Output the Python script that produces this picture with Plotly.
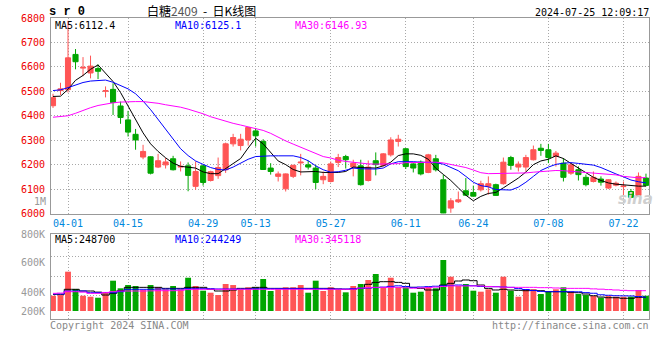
import plotly.graph_objects as go

# ---------------- data ----------------
DATES = [
    "03-28", "03-29",
    "04-01", "04-02", "04-03", "04-08", "04-09", "04-10", "04-11", "04-12",
    "04-15", "04-16", "04-17", "04-18", "04-19", "04-22", "04-23", "04-24",
    "04-25", "04-26", "04-29", "04-30",
    "05-06", "05-07", "05-08", "05-09", "05-10", "05-13", "05-14", "05-15",
    "05-16", "05-17", "05-20", "05-21", "05-22", "05-23", "05-24", "05-27",
    "05-28", "05-29", "05-30", "05-31",
    "06-03", "06-04", "06-05", "06-06", "06-07", "06-11", "06-12", "06-13",
    "06-14", "06-17", "06-18", "06-19", "06-20", "06-21", "06-24", "06-25",
    "06-26", "06-27", "06-28",
    "07-01", "07-02", "07-03", "07-04", "07-05", "07-08", "07-09", "07-10",
    "07-11", "07-12", "07-15", "07-16", "07-17", "07-18", "07-19", "07-22",
    "07-23", "07-24", "07-25",
]

OPEN = [6441, 6503, 6507, 6651, 6595, 6575, 6593, 6500, 6508, 6440,
        6383, 6324, 6231, 6232, 6190, 6199, 6224, 6190, 6195, 6111,
        6195, 6135, 6155, 6179, 6285, 6278, 6301, 6338, 6295, 6186,
        6152, 6101, 6152, 6207, 6199, 6186, 6138, 6131, 6209, 6233,
        6190, 6195, 6135, 6216, 6197, 6240, 6295, 6265, 6203, 6210,
        6168, 6224, 6138, 6022, 6048, 6093, 6086, 6097, 6111, 6118,
        6122, 6229, 6190, 6190, 6220, 6267, 6261, 6233, 6206, 6165,
        6179, 6148, 6131, 6141, 6104, 6116, 6110, 6090, 6074, 6145]
HIGH = [6490, 6535, 6789, 6673, 6640, 6646, 6610, 6520, 6533, 6458,
        6420, 6346, 6281, 6234, 6244, 6227, 6236, 6213, 6209, 6213,
        6199, 6175, 6229, 6290, 6326, 6326, 6353, 6350, 6304, 6206,
        6172, 6164, 6200, 6244, 6216, 6199, 6172, 6213, 6244, 6240,
        6220, 6220, 6217, 6250, 6247, 6312, 6322, 6268, 6206, 6217,
        6244, 6240, 6158, 6063, 6090, 6145, 6114, 6134, 6152, 6122,
        6229, 6236, 6213, 6240, 6278, 6285, 6285, 6256, 6227, 6209,
        6193, 6159, 6172, 6152, 6140, 6131, 6131, 6100, 6168, 6163]
LOW = [6432, 6485, 6495, 6590, 6562, 6553, 6550, 6475, 6403, 6367,
       6315, 6261, 6222, 6160, 6186, 6184, 6176, 6172, 6091, 6097,
       6114, 6131, 6142, 6166, 6274, 6258, 6278, 6274, 6178, 6159,
       6131, 6090, 6145, 6156, 6180, 6100, 6120, 6127, 6190, 6184,
       6152, 6114, 6131, 6156, 6192, 6233, 6274, 6182, 6168, 6156,
       6165, 6172, 6000, 6003, 6043, 6073, 6069, 6090, 6077, 6072,
       6118, 6179, 6172, 6172, 6217, 6236, 6206, 6192, 6131, 6158,
       6135, 6111, 6127, 6114, 6100, 6111, 6066, 6063, 6070, 6111]
CLOSE = [6474, 6510, 6637, 6621, 6598, 6603, 6582, 6503, 6454, 6393,
         6333, 6301, 6254, 6165, 6216, 6211, 6179, 6193, 6156, 6172,
         6127, 6171, 6188, 6285, 6311, 6304, 6352, 6318, 6180, 6172,
         6162, 6162, 6197, 6210, 6190, 6127, 6152, 6203, 6229, 6220,
         6206, 6118, 6190, 6200, 6244, 6301, 6304, 6192, 6186, 6162,
         6240, 6179, 6001, 6052, 6056, 6075, 6071, 6122, 6122, 6074,
         6210, 6197, 6202, 6229, 6261, 6258, 6229, 6247, 6148, 6199,
         6159, 6118, 6148, 6128, 6138, 6124, 6112, 6066, 6152, 6115]

MA5 = [6479, 6480, 6508, 6545, 6565, 6590, 6608, 6576, 6540, 6495,
       6440, 6385, 6330, 6285, 6254, 6228, 6206, 6193, 6191, 6186,
       6170, 6163, 6163, 6183, 6203, 6225, 6268, 6308, 6285, 6250,
       6215, 6200, 6180, 6170, 6172, 6172, 6168, 6168, 6168, 6172,
       6190, 6188, 6186, 6186, 6195, 6210, 6237, 6244, 6244, 6238,
       6222, 6185, 6160, 6135, 6105, 6075, 6052, 6070, 6082, 6086,
       6105, 6125, 6145, 6170, 6200, 6215, 6222, 6236, 6225, 6205,
       6185, 6165, 6148, 6135, 6125, 6120, 6117, 6115, 6112, 6112]
MA10 = [6503, 6506, 6515, 6526, 6536, 6542, 6545, 6546, 6537, 6524,
        6510, 6490, 6460, 6425, 6385, 6346, 6302, 6265, 6237, 6215,
        6201, 6188, 6180, 6178, 6190, 6205, 6222, 6233, 6236, 6236,
        6236, 6236, 6236, 6229, 6216, 6195, 6179, 6169, 6171, 6177,
        6186, 6183, 6182, 6182, 6186, 6203, 6212, 6213, 6212, 6210,
        6210, 6208, 6202, 6190, 6175, 6152, 6128, 6114, 6109, 6098,
        6096, 6096, 6108, 6128, 6152, 6176, 6190, 6201, 6206, 6208,
        6205, 6201, 6198, 6188, 6174, 6162, 6150, 6137, 6130, 6125]
MA30 = [6394, 6396, 6400, 6410, 6423, 6433, 6442, 6448, 6453, 6456,
        6458, 6458, 6458, 6455, 6451, 6445, 6441, 6435, 6427, 6419,
        6408, 6396, 6386, 6376, 6369, 6362, 6355, 6350, 6340, 6328,
        6312, 6297, 6284, 6271, 6259, 6244, 6233, 6227, 6218, 6213,
        6209, 6205, 6203, 6202, 6202, 6202, 6204, 6208, 6209, 6210,
        6210, 6210, 6207, 6201, 6195, 6188, 6178, 6167, 6163, 6163,
        6163, 6163, 6164, 6166, 6169, 6172, 6174, 6176, 6175, 6173,
        6170, 6166, 6165, 6163, 6162, 6158, 6152, 6149, 6146, 6147]

VOLUME = [243000, 254000, 625000, 350000, 243000, 227000, 211000, 297000, 482000, 361000,
          413000, 398000, 334000, 413000, 377000, 345000, 398000, 345000, 529000, 398000,
          323000, 291000, 254000, 429000, 413000, 345000, 377000, 377000, 509000, 318000,
          345000, 377000, 377000, 413000, 291000, 482000, 318000, 377000, 345000, 297000,
          398000, 429000, 493000, 588000, 377000, 529000, 377000, 377000, 291000, 307000,
          386000, 361000, 811000, 545000, 398000, 429000, 323000, 307000, 345000, 291000,
          545000, 323000, 227000, 345000, 345000, 270000, 307000, 345000, 377000, 307000,
          270000, 254000, 239000, 211000, 243000, 227000, 227000, 227000, 334000, 243000]
VOL_MA5 = [265000, 265000, 345000, 345000, 318000, 318000, 300000, 254000, 281000, 323000,
           376000, 376000, 376000, 376000, 376000, 360000, 360000, 360000, 376000, 376000,
           376000, 345000, 318000, 318000, 334000, 360000, 360000, 376000, 376000, 360000,
           360000, 360000, 360000, 360000, 360000, 360000, 360000, 360000, 350000, 345000,
           345000, 360000, 424000, 455000, 466000, 466000, 455000, 440000, 376000, 360000,
           334000, 334000, 413000, 440000, 477000, 493000, 482000, 413000, 360000, 334000,
           345000, 334000, 329000, 323000, 329000, 323000, 307000, 307000, 307000, 297000,
           291000, 270000, 243000, 222000, 211000, 211000, 202000, 202000, 218000, 218000]
VOL_MA10 = [270000, 270000, 318000, 318000, 318000, 291000, 291000, 291000, 291000, 307000,
            345000, 345000, 345000, 345000, 350000, 350000, 350000, 350000, 355000, 355000,
            355000, 355000, 350000, 350000, 350000, 350000, 350000, 355000, 355000, 355000,
            355000, 355000, 355000, 355000, 355000, 355000, 355000, 350000, 350000, 350000,
            355000, 360000, 365000, 372000, 380000, 392000, 400000, 390000, 376000, 382000,
            387000, 394000, 400000, 408000, 413000, 408000, 402000, 390000, 387000, 387000,
            382000, 376000, 356000, 342000, 325000, 312000, 307000, 307000, 307000, 307000,
            305000, 292000, 282000, 258000, 250000, 243000, 241000, 239000, 230000, 220000]
VOL_MA30 = [281000, 285000, 307000, 307000, 300000, 281000, 281000, 295000, 307000, 318000,
            318000, 318000, 318000, 320000, 323000, 323000, 323000, 330000, 340000, 345000,
            345000, 345000, 345000, 345000, 345000, 345000, 345000, 345000, 345000, 345000,
            345000, 345000, 345000, 345000, 345000, 345000, 345000, 345000, 345000, 345000,
            345000, 365000, 373000, 376000, 376000, 376000, 376000, 368000, 362000, 368000,
            371000, 380000, 390000, 398000, 398000, 398000, 398000, 398000, 390000, 385000,
            380000, 376000, 376000, 376000, 376000, 371000, 371000, 366000, 360000, 360000,
            360000, 360000, 352000, 347000, 340000, 334000, 328000, 323000, 323000, 323000]

DATE_TICKS = ["04-01", "04-15", "04-29", "05-13", "05-27", "06-11", "06-24", "07-08", "07-22"]
PRICE_TICKS = [6000, 6100, 6200, 6300, 6400, 6500, 6600, 6700, 6800]
VOL_TICK_LABELS = ["200K", "400K", "600K", "800K"]

TITLE = "白糖<span style='color:#555555'>2409</span>\u00a0\u00a0-\u00a0\u00a0日K线图"
SYMBOL = "<b>s r 0</b>"
STAMP = "2024-07-25 12:09:17"
PRICE_MA_TEXT = ["MA5:6112.4", "MA10:6125.1", "MA30:6146.93"]
VOL_MA_TEXT = ["MA5:248700", "MA10:244249", "MA30:345118"]

# ---------------- styles ----------------
RED = "#ff5555"
GREEN = "#00a600"
MA_COLORS = ["#000000", "#0000ff", "#ff00ff"]
GRID = "#a8a8a8"
FRAME = "#999999"
MONO = "DejaVu Sans Mono"
W, H = 660, 360
ML, MR, MT, MB = 51, 11, 18, 41
PW, PH = W - ML - MR, H - MT - MB


def px_x(px):
    return (px - ML) / PW


def px_y(py):
    return (H - MB - py) / PH


def ann(text, px, py, color, size=10, xanchor="left", family=MONO):
    return dict(text=text, x=px_x(px), y=px_y(py), xref="paper", yref="paper",
                xanchor=xanchor, yanchor="middle", showarrow=False, borderpad=0,
                font=dict(family=family, size=size, color=color))


fig = go.Figure()

fig.add_trace(go.Candlestick(
    x=DATES, open=OPEN, high=HIGH, low=LOW, close=CLOSE,
    increasing=dict(line=dict(color=RED, width=1), fillcolor=RED),
    decreasing=dict(line=dict(color=GREEN, width=1), fillcolor=GREEN),
    whiskerwidth=0, hoverinfo="skip", xaxis="x", yaxis="y"))

for series, col in zip([MA5, MA10, MA30], MA_COLORS):
    fig.add_trace(go.Scatter(x=DATES, y=series, mode="lines",
                             line=dict(color=col, width=1),
                             hoverinfo="skip", xaxis="x", yaxis="y"))

bar_colors = [RED if c >= o else GREEN for o, c in zip(OPEN, CLOSE)]
fig.add_trace(go.Bar(x=DATES, y=VOLUME, marker=dict(color=bar_colors, line=dict(width=0)),
                     width=0.78, hoverinfo="skip", xaxis="x2", yaxis="y2"))

for series, col in zip([VOL_MA5, VOL_MA10, VOL_MA30], MA_COLORS):
    fig.add_trace(go.Scatter(x=DATES, y=series, mode="lines",
                             line=dict(color=col, width=1, shape="hvh"),
                             hoverinfo="skip", xaxis="x2", yaxis="y2"))

# panel geometry (pixels)
PRICE_BOTTOM_PX = 213.5
VOL_TOP_PX = 234
VOL_ZERO_PX = 311
VOL_PER_PX = 15900

x_range = [(ML - 53) / 7.506, (W - MR - 53) / 7.506]
vol_range = [-(H - MB - VOL_ZERO_PX) * VOL_PER_PX, (VOL_ZERO_PX - VOL_TOP_PX) * VOL_PER_PX]
vol_tick_pos = [0, (VOL_ZERO_PX - 292) * VOL_PER_PX, (VOL_ZERO_PX - 262) * VOL_PER_PX,
                vol_range[1] - 2000]
vol_grid_pos = [(VOL_ZERO_PX - p) * VOL_PER_PX for p in (295, 276, 256)]

common_x = dict(type="category", range=x_range, tickmode="array", tickvals=DATE_TICKS,
                ticktext=DATE_TICKS, showgrid=True, gridcolor=GRID, griddash="1px,2px",
                gridwidth=1, showline=True, mirror=True, linecolor=FRAME, linewidth=1,
                zeroline=False, ticks="", fixedrange=True, automargin=False)

fig.update_layout(
    width=W, height=H, autosize=False,
    margin=dict(l=ML, r=MR, t=MT, b=MB, pad=0, autoexpand=False),
    paper_bgcolor="white", plot_bgcolor="white",
    showlegend=False, boxgap=0.2, boxgroupgap=0.15,
    xaxis=dict(**common_x, anchor="y", rangeslider=dict(visible=False),
               tickfont=dict(family=MONO, size=10, color="#0088dd")),
    yaxis=dict(domain=[px_y(PRICE_BOTTOM_PX), 1], range=[6000, 6800], tickmode="array",
               tickvals=PRICE_TICKS, ticktext=[str(v) for v in PRICE_TICKS],
               tickfont=dict(family=MONO, size=10, color="#ee0000"),
               showgrid=True, gridcolor=GRID, griddash="1px,2px", gridwidth=1,
               showline=True, mirror=True, linecolor=FRAME, linewidth=1,
               zeroline=False, ticks="outside", ticklen=3, tickcolor="rgba(0,0,0,0)",
               fixedrange=True, automargin=False),
    xaxis2=dict(**common_x, anchor="y2", matches="x", showticklabels=False),
    yaxis2=dict(domain=[0, px_y(VOL_TOP_PX)], range=vol_range, tickmode="array",
                tickvals=vol_tick_pos, ticktext=VOL_TICK_LABELS,
                tickfont=dict(family=MONO, size=10, color="#999999"),
                showgrid=False,
                minor=dict(tickmode="array", tickvals=vol_grid_pos, showgrid=True,
                           gridcolor=GRID, griddash="1px,2px", gridwidth=1, ticks=""),
                showline=True, mirror=True, linecolor=FRAME, linewidth=1,
                zeroline=False, ticks="outside", ticklen=3, tickcolor="rgba(0,0,0,0)",
                fixedrange=True, automargin=False),
)

annotations = [
    ann(SYMBOL, 48, 12, "#000000", size=12, family="Liberation Mono"),
    ann(TITLE, 201, 11, "#000000", size=12, xanchor="center", family="Noto Sans CJK SC"),
    ann(STAMP, 650, 12, "#000000", xanchor="right"),
    ann(PRICE_MA_TEXT[0], 54, 25, MA_COLORS[0]),
    ann(PRICE_MA_TEXT[1], 174, 25, MA_COLORS[1]),
    ann(PRICE_MA_TEXT[2], 294, 25, MA_COLORS[2]),
    ann("1M", 47, 201, "#999999", xanchor="right"),
    ann(VOL_MA_TEXT[0], 54, 239, MA_COLORS[0]),
    ann(VOL_MA_TEXT[1], 174, 239, MA_COLORS[1]),
    ann(VOL_MA_TEXT[2], 294, 239, MA_COLORS[2]),
    ann("Copyright 2024 SINA.COM", 49, 325, "#888888"),
    ann("http://finance.sina.com.cn", 650, 325, "#888888", xanchor="right"),
    ann("<b><i>sina</i></b>", 635, 199, "#cfcfcf", size=15, xanchor="center",
        family="DejaVu Sans"),
]
fig.update_layout(annotations=annotations)

fig.write_html("out.html", config={"displayModeBar": False},
               post_script="document.body.style.margin='0';document.body.style.padding='0';")
